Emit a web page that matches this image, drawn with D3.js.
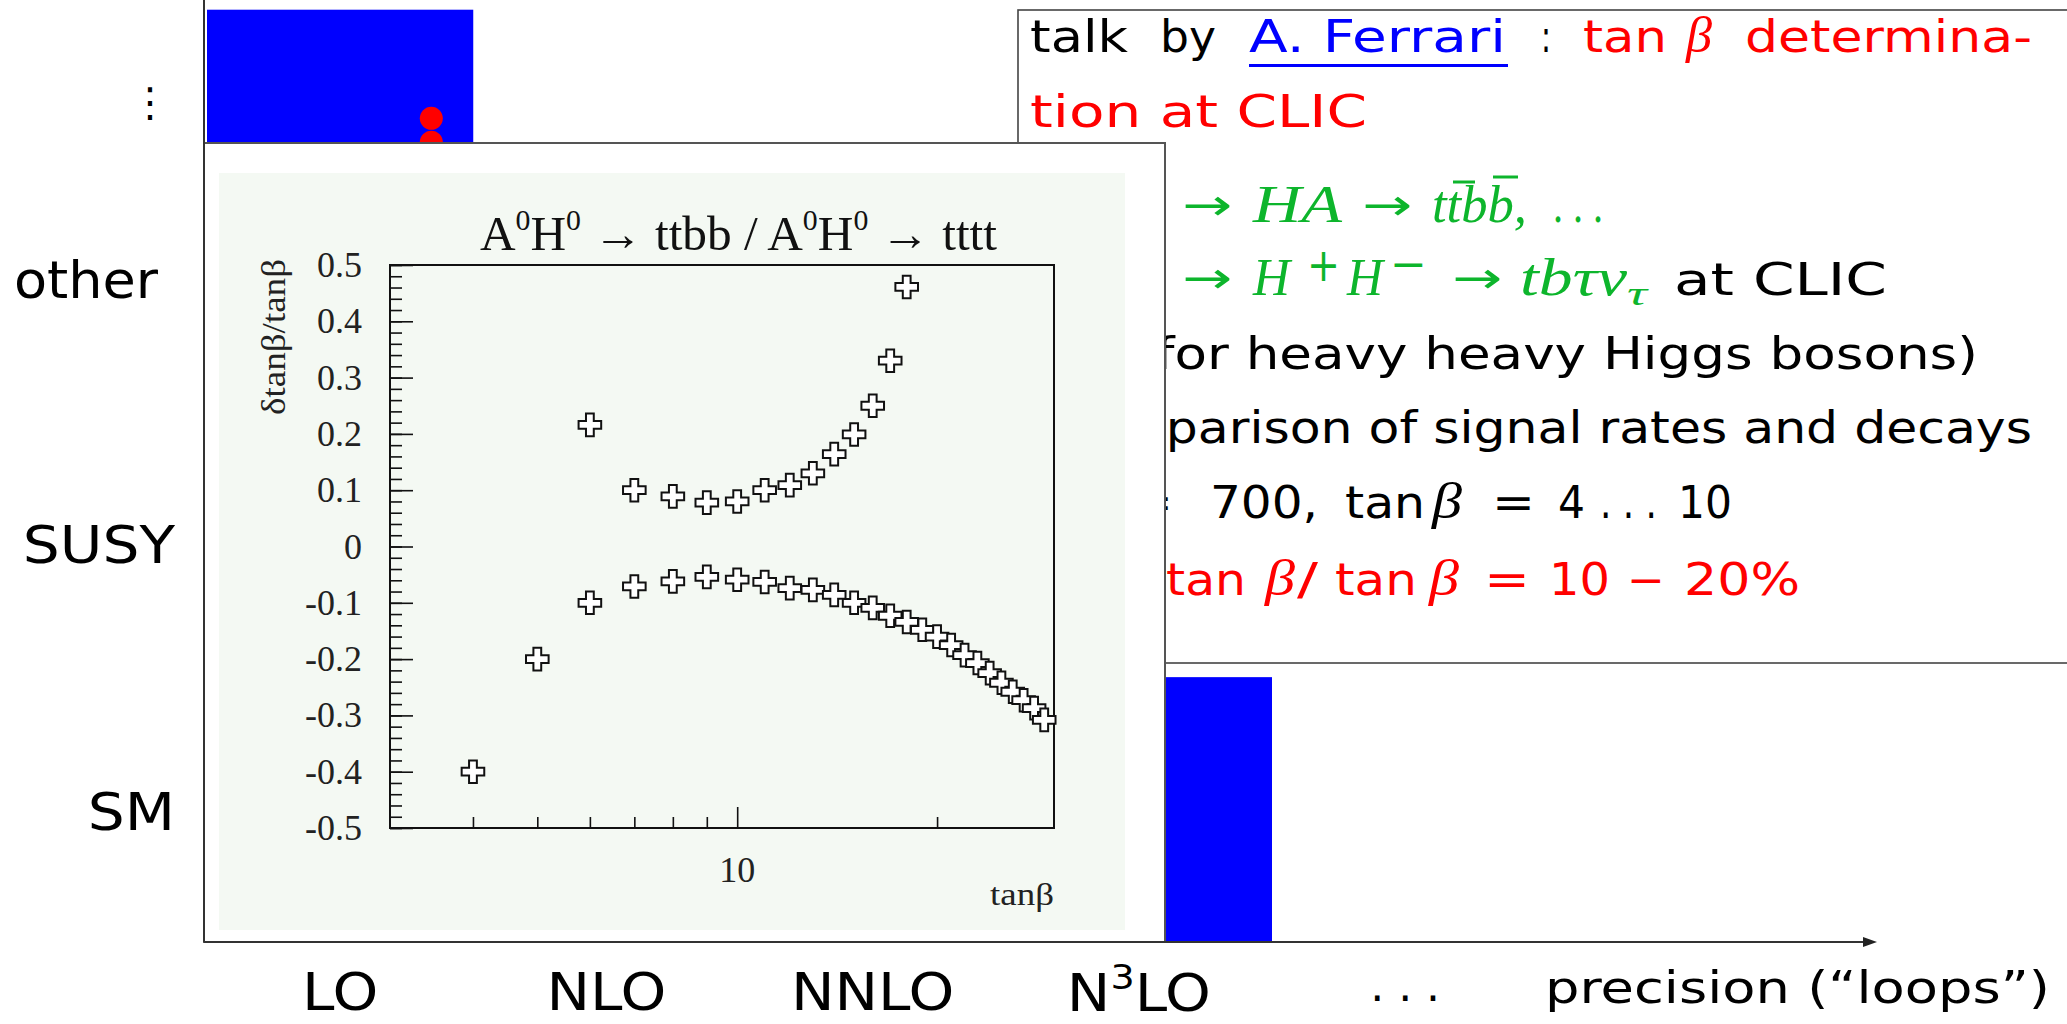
<!DOCTYPE html>
<html>
<head>
<meta charset="utf-8">
<script src="https://cdn.jsdelivr.net/npm/d3@7"></script>
<style>
  body { margin: 0; background: #fff; }
</style>
</head>
<body>
<div id="viz-container"></div>
<script>
// ---- main chart: model vs precision ----
let loopLabels = ["LO", "NLO", "NNLO", "N3LO", "..."];
let modelLabels = ["SM", "SUSY", "other", "⋮"];
let modelPos = [0.49, 1.5, 2.5, 3.17];
let barLoop = [0, 3];          // LO and N3LO columns
let barTop = [3.52, 1.0];      // height in "model" units
let dotLoop = [0.85, 0.85];
let dotLevel = [3.11, 3.02];

// ---- inset: A0H0 -> ttbb / A0H0 -> tttt ----
let tanbUp = [6, 7, 8, 9, 10, 11, 12, 13, 14, 15, 16, 17, 18];
let dUp = [0.216, 0.100, 0.089, 0.078, 0.080, 0.100, 0.109, 0.130, 0.164, 0.199, 0.250, 0.330, 0.461];
let tanbLow = [4, 5, 6, 7, 8, 9, 10, 11, 12, 13, 14, 15, 16, 17, 18, 19, 20, 21, 22, 23, 24, 25, 26, 27, 28, 29];
let dLow = [-0.400, -0.200, -0.100, -0.071, -0.062, -0.054, -0.059, -0.063, -0.074, -0.077, -0.086, -0.100,
            -0.109, -0.123, -0.134, -0.148, -0.160, -0.175, -0.193, -0.207, -0.225, -0.242, -0.258, -0.273,
            -0.287, -0.308];
let xTickVals = [4, 5, 6, 7, 8, 9, 10, 20];
let xTickLabels = [10];

let sans = "'DejaVu Sans', sans-serif";
let serif = "'Liberation Serif', 'DejaVu Serif', serif";
let green = "#0db52c";

let viz = d3.select("#viz-container")
    .append("svg")
        .attr("width", 2067)
        .attr("height", 1024)
        .style("display", "block")
;

let xMain = d3.scaleLinear().domain([0, 1]).range([207, 473.25]);
let yMain = d3.scaleLinear().domain([0, 3.5]).range([942, 15]);

// bars
viz.selectAll(".bar").data(barLoop).enter()
    .append("rect")
        .attr("x", d => xMain(d))
        .attr("width", d => xMain(d + 1) - xMain(d))
        .attr("y", (d, i) => yMain(barTop[i]))
        .attr("height", (d, i) => yMain(0) - yMain(barTop[i]))
        .attr("fill", "#0000ff")
;

viz.selectAll(".dot").data(dotLoop).enter()
    .append("circle")
        .attr("cx", d => xMain(d) - 2)
        .attr("cy", (d, i) => yMain(dotLevel[i]))
        .attr("r", 11.5)
        .attr("fill", "#ff0000")
;

// stretch helper for the wide gothic-looking labels
function stretch(sel, k) {
    sel.each(function() {
        let len = this.getComputedTextLength();
        d3.select(this).attr("textLength", len * k).attr("lengthAdjust", "spacingAndGlyphs");
    });
}

// model labels (y)
let ml = viz.selectAll(".mlab").data(modelLabels).enter()
    .append("text")
        .attr("x", d => d == "other" ? 158 : 175)
        .attr("y", (d, i) => yMain(modelPos[i]) + (d == "⋮" ? 14 : 18))
        .attr("text-anchor", "end")
        .attr("font-family", sans)
        .attr("font-size", d => d == "⋮" ? 40 : 52)
        .text(d => d)
;
ml.filter(d => d == "SM" || d == "SUSY").call(stretch, 1.12);
ml.filter(d => d == "other").call(stretch, 1.04);
ml.filter(d => d == "⋮").attr("x", 150).attr("text-anchor", "middle");

// loop labels (x)
loopLabels.forEach((d, i) => {
    let t = viz.append("text")
        .attr("x", xMain(i + 0.5))
        .attr("y", d == "N3LO" ? 1011 : (d == "..." ? 1001 : 1010))
        .attr("text-anchor", "middle")
        .attr("font-family", sans)
        .attr("font-size", d == "..." ? 44 : 52);
    if (d == "N3LO") {
        t.append("tspan").text("N");
        t.append("tspan").text("3").attr("font-size", 34).attr("dy", -22);
        t.append("tspan").text("LO").attr("dy", 22);
    } else if (d == "...") {
        t.text(". . .");
    } else {
        t.text(d);
    }
    if (d != "...") t.call(stretch, 1.12);
});

viz.append("text")
    .attr("x", 1545).attr("y", 1003)
    .attr("font-family", sans).attr("font-size", 44)
    .attr("textLength", 505).attr("lengthAdjust", "spacingAndGlyphs")
    .text("precision (“loops”)");

// ---- talk box ----
viz.append("rect")
    .attr("x", 1018).attr("y", 10)
    .attr("width", 1200).attr("height", 653)
    .attr("fill", "#fff").attr("stroke", "#444").attr("stroke-width", 1.6);

function seg(t, x, y, w, o) {
    o = o || {};
    let s = viz.append("text")
        .attr("x", x).attr("y", y)
        .attr("font-family", o.font || sans)
        .attr("font-size", o.size || 44)
        .attr("fill", o.color || "#000")
        .text(t);
    if (o.italic) s.attr("font-style", "italic");
    if (w) s.attr("textLength", w).attr("lengthAdjust", "spacingAndGlyphs");
    return s;
}
let red = "#ff0000", blue = "#0000ff";
let mathI = {font: serif, italic: true, size: 50};

// line 1
seg("talk", 1030, 52, 98);
seg("by", 1160, 52, 56);
seg("A. Ferrari", 1249, 52, 257, {color: blue});
viz.append("rect").attr("x", 1249).attr("y", 64).attr("width", 259).attr("height", 3).attr("fill", blue);
seg(":", 1541, 52, 10);
seg("tan", 1583, 52, 84, {color: red});
seg("β", 1686, 52, 26, Object.assign({}, mathI, {color: red}));
seg("determina-", 1745, 52, 287, {color: red});
// line 2
seg("tion at CLIC", 1030, 127, 337, {color: red});
// line 3
let g3 = {font: serif, size: 52, color: green};
let g3i = Object.assign({}, g3, {italic: true});
let arr = {font: sans, size: 44, color: green};
seg("→", 1182, 220, 50, arr);
seg("HA", 1253, 222, 89, g3i);
seg("→", 1362, 220, 50, arr);
seg("ttbb,", 1432, 222, 95, g3i);
viz.append("line").attr("x1", 1453).attr("x2", 1475).attr("y1", 182).attr("y2", 182).attr("stroke", green).attr("stroke-width", 3);
viz.append("line").attr("x1", 1493).attr("x2", 1518).attr("y1", 177).attr("y2", 177).attr("stroke", green).attr("stroke-width", 3);
seg(". . .", 1553, 222, 50, g3);
// line 4
seg("→", 1182, 293, 50, arr);
seg("H", 1253, 295, 37, g3i);
seg("+", 1307, 281, 33, Object.assign({}, arr, {size: 46}));
seg("H", 1347, 295, 36, g3i);
seg("−", 1390, 279, 37, Object.assign({}, arr, {size: 44}));
seg("→", 1452, 293, 50, arr);
seg("tbτν", 1520, 295, 107, g3i);
seg("τ", 1627, 305, 20, Object.assign({}, g3i, {size: 34}));
seg("at CLIC", 1674, 295, 213);
// line 5-6
seg("(for heavy heavy Higgs bosons)", 1135, 369, 843);
seg("comparison of signal rates and decays", 1058, 443, 974);
// line 7
seg("=", 1138, 518, 34);
seg("700,", 1210, 518, 108);
seg("tan", 1345, 518, 80);
seg("β", 1432, 518, 30, mathI);
seg("=", 1492, 518, 43);
seg("4", 1558, 518, 27);
seg(". . .", 1600, 518, 57);
seg("10", 1678, 518, 54);
// line 8
let r8 = {color: red};
seg("tan", 1166, 595, 80, r8);
seg("β", 1265, 595, 30, Object.assign({}, mathI, r8));
seg("/", 1297, 595, 21, r8);
seg("tan", 1335, 595, 82, r8);
seg("β", 1429, 595, 30, Object.assign({}, mathI, r8));
seg("=", 1484, 595, 46, r8);
seg("10", 1549, 595, 61, r8);
seg("−", 1627, 595, 38, r8);
seg("20%", 1684, 595, 116, r8);

// ---- inset plot ----
let inset = viz.append("g");
inset.append("rect")
    .attr("x", 204).attr("y", 143)
    .attr("width", 961).attr("height", 799)
    .attr("fill", "#fff").attr("stroke", "#555").attr("stroke-width", 2);
inset.append("rect")
    .attr("x", 219).attr("y", 173)
    .attr("width", 906).attr("height", 757)
    .attr("fill", "#f4f9f3");

let xIn = d3.scaleLog().domain([3, 30]).range([390, 1054]);
let yIn = d3.scaleLinear().domain([-0.5, 0.5]).range([828, 265]);

// ticks (inside the frame, ROOT style)
inset.append("g")
    .attr("transform", "translate(390,0)")
    .call(d3.axisRight(yIn).tickValues(yIn.ticks(50)).tickSize(12).tickFormat(""))
    .call(g => g.select(".domain").remove())
    .selectAll("line").attr("stroke", "#111").attr("stroke-width", 1.6);
inset.append("g")
    .attr("transform", "translate(390,0)")
    .call(d3.axisRight(yIn).tickValues(yIn.ticks(10)).tickSize(23).tickFormat(""))
    .call(g => g.select(".domain").remove())
    .selectAll("line").attr("stroke", "#111").attr("stroke-width", 1.6);
inset.append("g")
    .attr("transform", "translate(0,828)")
    .call(d3.axisTop(xIn).tickValues(xTickVals).tickSize(11).tickFormat(""))
    .call(g => g.select(".domain").remove())
    .selectAll(".tick line")
        .attr("y2", d => xTickLabels.includes(d) ? -21 : -11)
        .attr("stroke", "#111").attr("stroke-width", 1.6);

inset.append("rect")
    .attr("x", 390).attr("y", 265)
    .attr("width", 664).attr("height", 563)
    .attr("fill", "none").attr("stroke", "#111").attr("stroke-width", 2);

// tick labels
inset.selectAll(".ylab").data(yIn.ticks(10)).enter()
    .append("text")
        .attr("x", 362)
        .attr("y", d => yIn(d) + 12)
        .attr("text-anchor", "end")
        .attr("font-family", serif)
        .attr("font-size", 36)
        .attr("fill", "#222")
        .text(d => d == 0 ? "0" : d.toFixed(1))
;
inset.selectAll(".xlab").data(xTickLabels).enter()
    .append("text")
        .attr("x", d => xIn(d))
        .attr("y", 882)
        .attr("text-anchor", "middle")
        .attr("font-family", serif)
        .attr("font-size", 36)
        .attr("fill", "#222")
        .text(d => d)
;
inset.append("text")
    .attr("x", 1054).attr("y", 905)
    .attr("text-anchor", "end")
    .attr("font-family", serif).attr("font-size", 32).attr("fill", "#222")
    .attr("textLength", 64).attr("lengthAdjust", "spacingAndGlyphs")
    .text("tanβ");
inset.append("text")
    .attr("transform", "translate(285,259) rotate(-90)")
    .attr("text-anchor", "end")
    .attr("font-family", serif).attr("font-size", 34).attr("fill", "#222")
    .attr("textLength", 156).attr("lengthAdjust", "spacingAndGlyphs")
    .text("δtanβ/tanβ");

// title
let title = inset.append("text")
    .attr("x", 480).attr("y", 250)
    .attr("font-family", serif).attr("font-size", 48).attr("fill", "#111")
    .attr("textLength", 517).attr("lengthAdjust", "spacingAndGlyphs");
title.append("tspan").text("A");
title.append("tspan").text("0").attr("font-size", 29).attr("dy", -20);
title.append("tspan").text("H").attr("dy", 20);
title.append("tspan").text("0").attr("font-size", 29).attr("dy", -20);
title.append("tspan").text(" → ttbb /  A").attr("dy", 20);
title.append("tspan").text("0").attr("font-size", 29).attr("dy", -20);
title.append("tspan").text("H").attr("dy", 20);
title.append("tspan").text("0").attr("font-size", 29).attr("dy", -20);
title.append("tspan").text(" → tttt").attr("dy", 20);

// open cross markers
let w = 3.9, h = 11.3;
let cross = `M${-w},${-h}L${w},${-h}L${w},${-w}L${h},${-w}L${h},${w}L${w},${w}L${w},${h}L${-w},${h}L${-w},${w}L${-h},${w}L${-h},${-w}L${-w},${-w}Z`;

inset.selectAll(".low").data(tanbLow).enter()
    .append("path")
        .attr("d", cross)
        .attr("transform", (d, i) => `translate(${xIn(d)},${yIn(dLow[i])})`)
        .attr("fill", "#fff").attr("stroke", "#111").attr("stroke-width", 2)
;
inset.selectAll(".up").data(tanbUp).enter()
    .append("path")
        .attr("d", cross)
        .attr("transform", (d, i) => `translate(${xIn(d)},${yIn(dUp[i])})`)
        .attr("fill", "#fff").attr("stroke", "#111").attr("stroke-width", 2)
;

// ---- main axes on top ----
viz.append("line")
    .attr("x1", 204).attr("x2", 204).attr("y1", 0).attr("y2", yMain(0))
    .attr("stroke", "#333").attr("stroke-width", 2);
viz.append("line")
    .attr("x1", 204).attr("x2", 1868).attr("y1", yMain(0)).attr("y2", yMain(0))
    .attr("stroke", "#333").attr("stroke-width", 2);
viz.append("path")
    .attr("d", `M1877,${yMain(0)}L1863,${yMain(0) - 5}L1863,${yMain(0) + 5}Z`)
    .attr("fill", "#222");
</script>
</body>
</html>
